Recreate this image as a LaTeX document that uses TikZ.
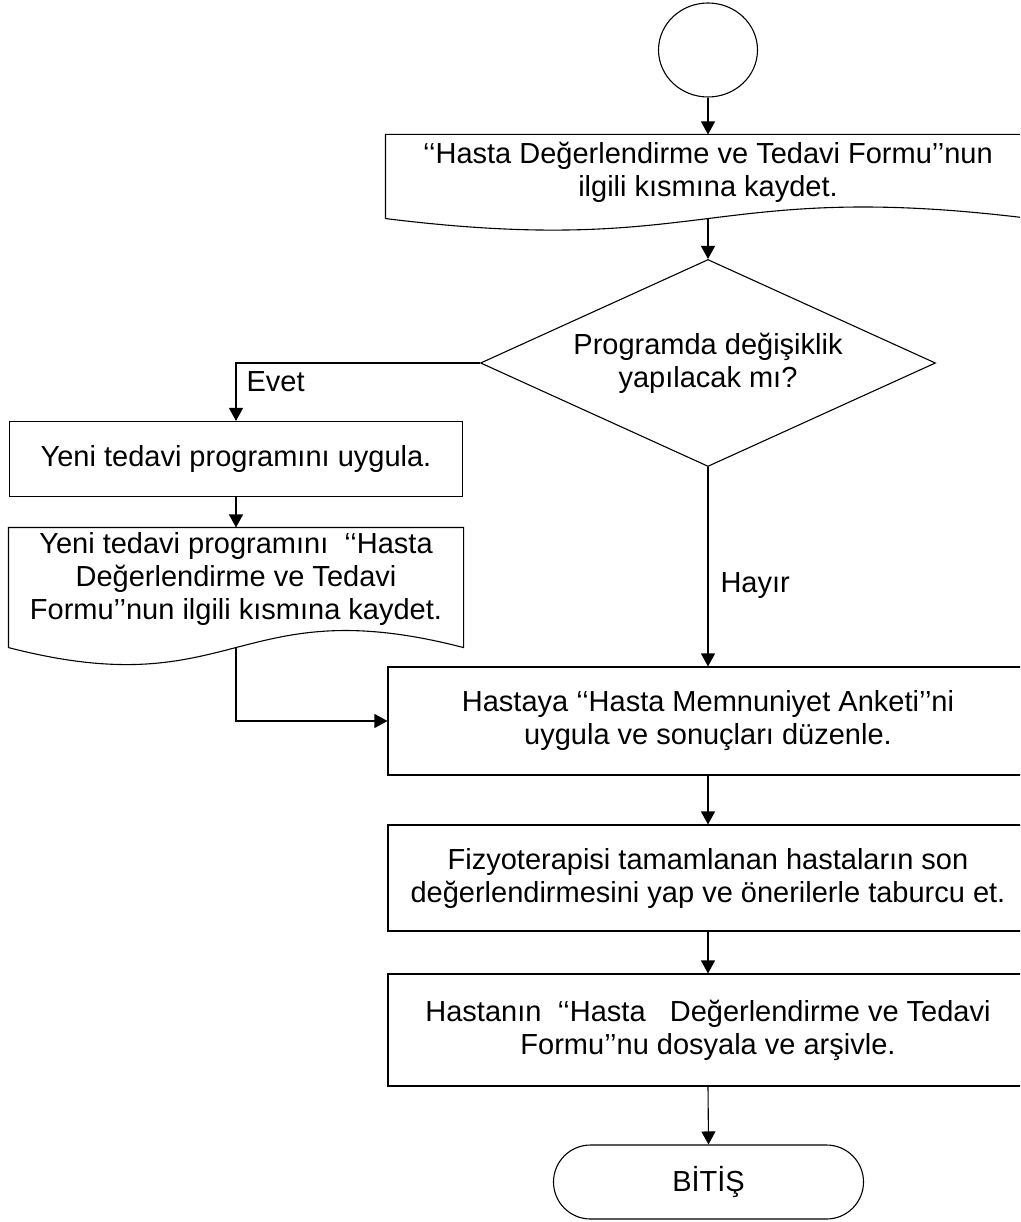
\documentclass[tikz,border=0pt]{standalone}
\usepackage{fontspec}
\setmainfont{Liberation Sans}
\usetikzlibrary{shapes.geometric,arrows.meta}
\tikzset{
	box/.style={draw, rectangle, inner sep=0pt, align=center},
	frame/.style={rectangle, inner sep=0pt, align=center},
	arr/.style={-{Triangle[length=13pt,width=14pt]}},
	tag/.style={anchor=base west, inner sep=0pt}
}
\begin{document}
\begin{tikzpicture}[x=1pt,y=-1pt,line width=1.1pt,font=\fontsize{29}{33}\selectfont]
		\useasboundingbox (0,0) rectangle (1020,1222);
		\clip (0,0) rectangle (1020,1222);
		% start
		\node[draw, ellipse, minimum width=99pt, minimum height=94pt, inner sep=0pt] (start) at (708,50) {};
		% first form
		\node[frame, minimum width=644pt, minimum height=74pt] (form1) at (708,172) {‘‘Hasta Değerlendirme ve Tedavi Formu’’nun\\ilgili kısmına kaydet.};
		\draw ([yshift=-9pt]form1.south west) -- (form1.north west) -- (form1.north east) -- ([yshift=-9pt]form1.south east)
			.. controls ([yshift=31pt]form1.south) and ([yshift=-49pt]form1.south) .. ([yshift=-9pt]form1.south west);
		% question
		\node[draw, diamond, aspect=2.2, minimum width=455pt, minimum height=207pt, inner sep=0pt, align=center] (ask) at (708,363) {Programda değişiklik\\yapılacak mı?};
		% left branch
		\node[box, minimum width=453pt, minimum height=75pt] (apply) at (236,459) {Yeni tedavi programını uygula.};
		\node[frame, minimum width=454pt, minimum height=102pt] (form2) at (236,579) {Yeni tedavi programını\ \ ‘‘Hasta\\Değerlendirme ve Tedavi\\Formu’’nun ilgili kısmına kaydet.};
		\draw ([yshift=-17pt]form2.south west) -- (form2.north west) -- (form2.north east) -- ([yshift=-17pt]form2.south east)
			.. controls ([yshift=42pt]form2.south) and ([yshift=-76pt]form2.south) .. ([yshift=-17pt]form2.south west);
		% main column
		\node[box, minimum width=640pt, minimum height=108pt] (survey) at (708,721) {Hastaya ‘‘Hasta Memnuniyet Anketi’’ni\\uygula ve sonuçları düzenle.};
		\node[box, minimum width=640pt, minimum height=106pt] (discharge) at (708,878) {Fizyoterapisi tamamlanan hastaların son\\değerlendirmesini yap ve önerilerle taburcu et.};
		\node[box, minimum width=640pt, minimum height=112pt] (archive) at (708,1030) {Hastanın\ \ ‘‘Hasta\ \ \ Değerlendirme ve Tedavi\\Formu’’nu dosyala ve arşivle.};
		% end
		\node[box, rounded corners=37pt, minimum width=310pt, minimum height=74pt] (stop) at (708.5,1182) {BİTİŞ};
		% arrows
		\draw[arr] (start.south) -- (form1.north);
		\draw[arr] ([yshift=-9pt]form1.south) -- (ask.north);
		\draw[arr] (ask.west) -| (apply.north) node[tag, pos=0.75, xshift=10pt] (yes) {Evet};
		\draw[arr] (apply.south) -- (form2.north);
		\draw[arr] ([yshift=-17pt]form2.south) |- (survey.west);
		\draw[arr] (ask.south) -- (survey.north) node[tag, pos=0.63, xshift=12pt] (no) {Hayır};
		\draw[arr] (survey.south) -- (discharge.north);
		\draw[arr] (discharge.south) -- (archive.north);
		\draw[arr] (archive.south) -- (stop.north);
	\end{tikzpicture}
\end{document}
